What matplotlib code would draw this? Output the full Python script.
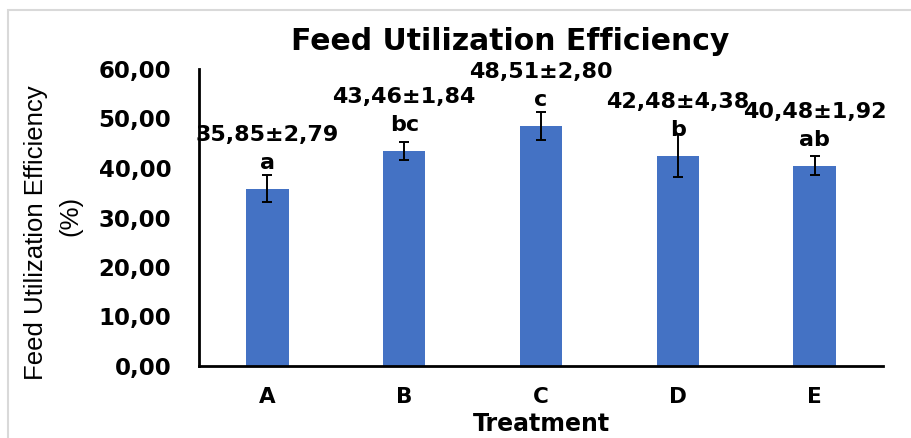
import matplotlib
matplotlib.use("Agg")
import matplotlib.pyplot as plt
from matplotlib.patches import Rectangle

treatments = ["A", "B", "C", "D", "E"]
means = [35.85, 43.46, 48.51, 42.48, 40.48]
sds = [2.79, 1.84, 2.80, 4.38, 1.92]
letters = ["a", "bc", "c", "b", "ab"]
yticks = [0, 10, 20, 30, 40, 50, 60]

BOLD = "DejaVu Sans"
fig = plt.figure(figsize=(9.12, 4.38), dpi=100)
ax = fig.add_axes([199/912, 1-366/438, (883-199)/912, (366-69)/438])

x = list(range(len(treatments)))
ax.bar(x, means, width=0.31, color="#4472C4", zorder=2)
ax.errorbar(x, means, yerr=sds, fmt="none", ecolor="black", elinewidth=1.4,
            capsize=3.8, capthick=1.4, zorder=3)

for xi, m, s, l in zip(x, means, sds, letters):
    ax.annotate(l, (xi, m), xytext=(0, 18.7), textcoords="offset points",
                ha="center", va="center", fontsize=16, fontweight="bold",
                family=BOLD, zorder=4)
    ax.annotate(f"{m:.2f}±{s:.2f}".replace(".", ","), (xi, m), xytext=(0, 38.9),
                textcoords="offset points", ha="center", va="center",
                fontsize=16, fontweight="bold", family=BOLD, zorder=4)

ax.set_xlim(-0.5, 4.5)
ax.set_ylim(0, 60)
ax.set_yticks(yticks)
ax.set_yticklabels([f"{v:.2f}".replace(".", ",") for v in yticks],
                   fontsize=16.5, fontweight="bold", family=BOLD)
ax.set_xticks(x)
ax.set_xticklabels(treatments, fontsize=15.5, fontweight="bold", family=BOLD)
ax.tick_params(axis="y", length=0, pad=20)
ax.tick_params(axis="x", length=0, pad=15)

for sp in ["top", "right"]:
    ax.spines[sp].set_visible(False)
for sp in ["left", "bottom"]:
    ax.spines[sp].set_linewidth(2)
    ax.spines[sp].set_color("black")

ax.set_xlabel("Treatment", fontsize=17, fontweight="bold", family=BOLD, labelpad=4)

fig.text(36/912, 1-233/438, "Feed Utilization Efficiency", rotation=90,
         ha="center", va="center", fontsize=18.5, family="Liberation Sans")
fig.text(70/912, 1-216/438, "(%)", rotation=90,
         ha="center", va="center", fontsize=18.5, family="Liberation Sans")

fig.text(510/912, 1-42/438, "Feed Utilization Efficiency", ha="center", va="center",
         fontsize=21.5, fontweight="bold", family=BOLD)

fig.patches.append(Rectangle((8/912, -0.2), 1.2, 1.2 - 10/438,
                             transform=fig.transFigure, fill=False,
                             edgecolor="#d9d9d9", linewidth=1.5, clip_on=False))

fig.savefig("out.png", dpi=100)
